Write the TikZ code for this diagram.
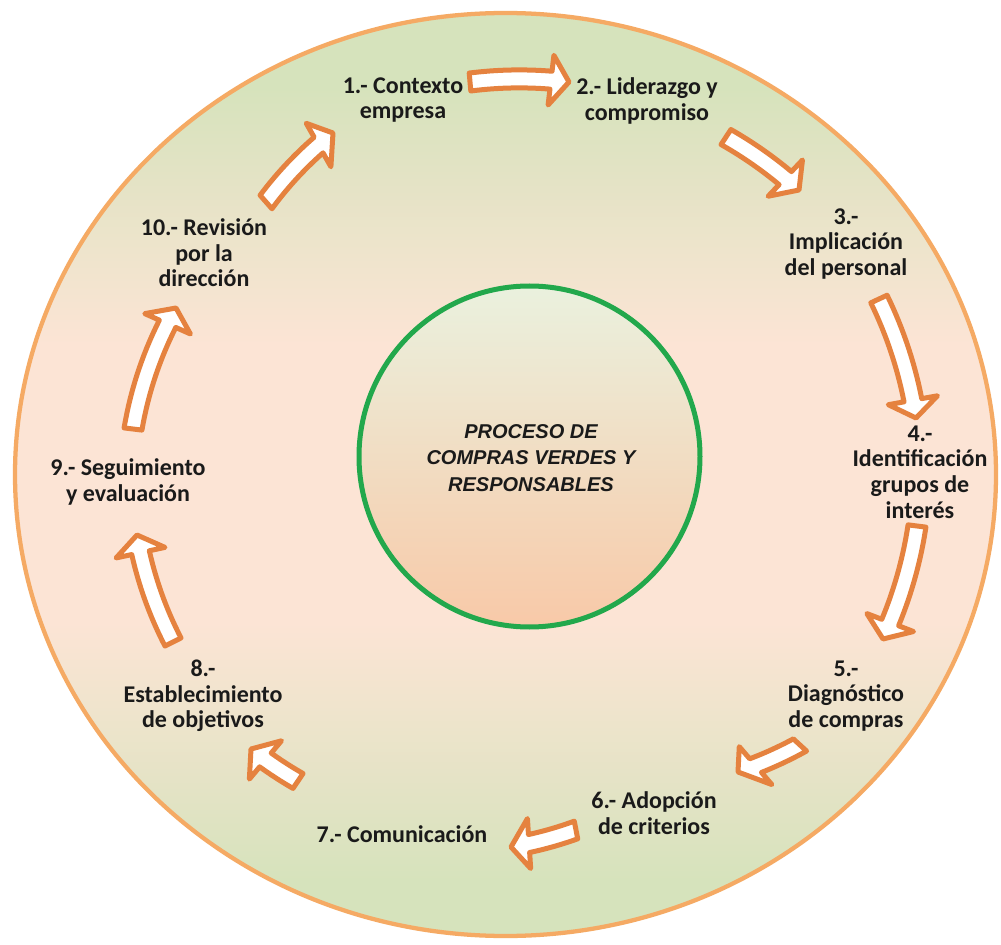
\documentclass[tikz,border=0pt]{standalone}
\usepackage{fontspec}
\setmainfont{Carlito}
\newfontfamily\arialf{Liberation Sans}
\definecolor{ringborder}{HTML}{F5AA64}
\definecolor{ringgreen}{HTML}{D6E3BC}
\definecolor{ringpeach}{HTML}{FCE4D5}
\definecolor{arrowline}{HTML}{E5823F}
\definecolor{coregreen}{HTML}{22A84C}
\definecolor{coretop}{HTML}{EAF1DE}
\definecolor{corebot}{HTML}{F8C9A8}
\definecolor{txt}{HTML}{1A1A1A}
\pgfdeclareverticalshading{ringshade}{100bp}{color(0bp)=(ringgreen); color(25bp)=(ringgreen); color(28bp)=(ringgreen); color(42bp)=(ringpeach); color(57bp)=(ringpeach); color(71bp)=(ringgreen); color(75bp)=(ringgreen); color(100bp)=(ringgreen)}
\def\ccx{505}\def\ccy{474}\def\aw{9}\def\ah{25}\def\ahl{18}
\newcommand{\blockarr}[4]{%
  \pgfmathsetmacro{\aA}{atan2((#2)-\ccy,(#1)-\ccx)}%
  \pgfmathsetmacro{\rA}{veclen((#1)-\ccx,(#2)-\ccy)}%
  \pgfmathsetmacro{\aC}{atan2((#4)-\ccy,(#3)-\ccx)}%
  \pgfmathsetmacro{\rC}{veclen((#3)-\ccx,(#4)-\ccy)}%
  \pgfmathsetmacro{\dA}{\aC-\aA}%
  \pgfmathsetmacro{\dA}{(\dA>180) ? (\dA-360) : ((\dA<-180) ? (\dA+360) : (\dA))}%
  \pgfmathsetmacro{\len}{abs(\dA)*pi/180*(\rA+\rC)/2}%
  \pgfmathsetmacro{\fB}{1-\ahl/\len}%
  \pgfmathsetmacro{\aB}{\aA+(\dA)*\fB}%
  \pgfmathsetmacro{\rB}{\rA+(\rC-\rA)*\fB}%
  \draw[arrowst]
    plot[domain=0:\fB, samples=16, variable=\t]
      ({\ccx+(\rA+(\rC-\rA)*\t+\aw)*cos(\aA+(\dA)*\t)},{\ccy+(\rA+(\rC-\rA)*\t+\aw)*sin(\aA+(\dA)*\t)})
    -- ({\ccx+(\rB+\ah)*cos(\aB)},{\ccy+(\rB+\ah)*sin(\aB)})
    -- (#3,#4)
    -- ({\ccx+(\rB-\ah)*cos(\aB)},{\ccy+(\rB-\ah)*sin(\aB)})
    -- plot[domain=0:1, samples=16, variable=\t]
      ({\ccx+(\rA+(\rC-\rA)*(\fB*(1-\t))-\aw)*cos(\aA+(\dA)*(\fB*(1-\t)))},{\ccy+(\rA+(\rC-\rA)*(\fB*(1-\t))-\aw)*sin(\aA+(\dA)*(\fB*(1-\t)))})
    -- cycle;
}
\begin{document}
\begin{tikzpicture}[x=0.75pt,y=-0.75pt,
  arrowst/.style={draw=arrowline, line width=3.75pt, fill=white, line join=round},
  steplabel/.style={align=center, text=txt, font=\bfseries\fontsize{18}{19.2}\selectfont, inner sep=0pt},
  corelabel/.style={align=center, text=txt, font=\arialf\bfseries\itshape\fontsize{15}{20}\selectfont, inner sep=0pt}]
\useasboundingbox (0,0) rectangle (1001,945);
\fill[white] (0,0) rectangle (1001,945);
% outer ring
\path[draw=ringborder, line width=3.2pt, shading=ringshade]
  (505.5,474.5) ellipse [x radius=490.5, y radius=461.5];
% core circle
\path[draw=coregreen, line width=3.75pt, top color=coretop, bottom color=corebot]
  (529.5,456.5) circle [radius=170.5];
\node[corelabel] (core) at (531,458) {PROCESO DE\\COMPRAS VERDES Y\\RESPONSABLES};
% labels
\node[steplabel] (s1) at (403,100) {1.- Contexto\\empresa};
\node[steplabel] (s2) at (647,101) {2.- Liderazgo y\\compromiso};
\node[steplabel] (s3) at (846,244) {3.-\\Implicación\\del personal};
\node[steplabel] (s4) at (920,472) {4.-\\Identificación\\grupos de\\interés};
\node[steplabel] (s5) at (846,696) {5.-\\Diagnóstico\\de compras};
\node[steplabel] (s6) at (654,813) {6.- Adopción\\de criterios};
\node[steplabel] (s7) at (402,834) {7.- Comunicación};
\node[steplabel] (s8) at (203,696) {8.-\\Establecimiento\\de objetivos};
\node[steplabel] (s9) at (128,482) {9.- Seguimiento\\y evaluación};
\node[steplabel] (s10) at (204,253) {10.- Revisión\\por la\\dirección};
% arrows
\blockarr{470}{82}{569}{82}
\blockarr{726}{137}{799}{190}
\blockarr{879}{299}{916}{418}
\blockarr{917}{526}{883}{639}
\blockarr{800}{745}{738}{772}
\blockarr{576}{830}{511}{847}
\blockarr{298}{781}{251}{749}
\blockarr{173}{642}{137}{535}
\blockarr{133}{429}{176}{308}
\blockarr{266}{202}{333}{133}
\end{tikzpicture}
\end{document}
